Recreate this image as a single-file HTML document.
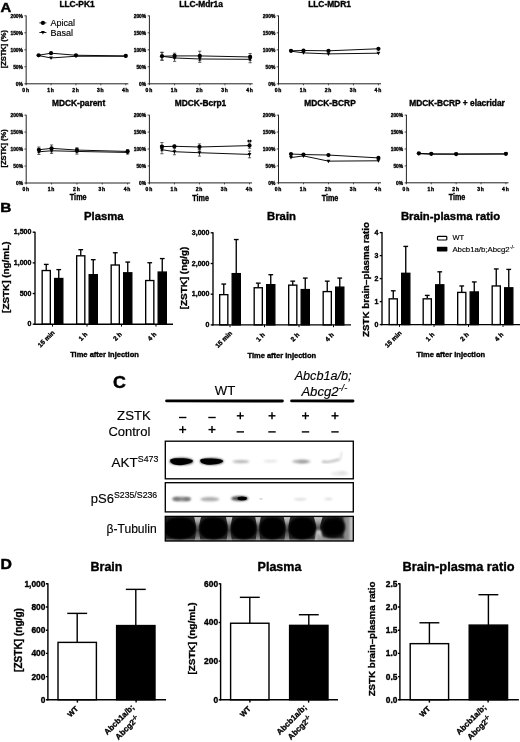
<!DOCTYPE html>
<html lang="en">
<head>
<meta charset="utf-8">
<title>ZSTK474 transport and brain penetration figure</title>
<style>
html,body{margin:0;padding:0;background:#fff;}
body{width:520px;height:742px;overflow:hidden;}
svg{display:block;filter:blur(0.3px);}
svg text{font-family:"Liberation Sans",sans-serif;fill:#000;}
</style>
</head>
<body>
<svg width="520" height="742" viewBox="0 0 520 742">
<rect x="0" y="0" width="520" height="742" fill="#fff"/>
<g id="panelA">
<text transform="translate(0.5 11.9) scale(1.13 1)" font-size="13.2" font-weight="bold" stroke="#000" stroke-width="0.45">A</text>
<text x="77" y="7.1" font-size="8.35" font-weight="bold" text-anchor="middle" stroke="#000" stroke-width="0.36">LLC-PK1</text>
<line x1="26.15" y1="15.5" x2="26.15" y2="84.25" stroke="#222" stroke-width="1" stroke-linecap="butt"/>
<line x1="25.7" y1="83.8" x2="128.35" y2="83.8" stroke="#222" stroke-width="1" stroke-linecap="butt"/>
<line x1="24.35" y1="83.8" x2="26.15" y2="83.8" stroke="#222" stroke-width="0.8" stroke-linecap="butt"/>
<text x="22.95" y="85.6" font-size="4.9" font-weight="bold" text-anchor="end" stroke="#000" stroke-width="0.32">0%</text>
<line x1="24.35" y1="66.8" x2="26.15" y2="66.8" stroke="#222" stroke-width="0.8" stroke-linecap="butt"/>
<text x="22.95" y="68.6" font-size="4.9" font-weight="bold" text-anchor="end" stroke="#000" stroke-width="0.32">50%</text>
<line x1="24.35" y1="49.8" x2="26.15" y2="49.8" stroke="#222" stroke-width="0.8" stroke-linecap="butt"/>
<text x="22.95" y="51.6" font-size="4.9" font-weight="bold" text-anchor="end" stroke="#000" stroke-width="0.32">100%</text>
<line x1="24.35" y1="32.8" x2="26.15" y2="32.8" stroke="#222" stroke-width="0.8" stroke-linecap="butt"/>
<text x="22.95" y="34.6" font-size="4.9" font-weight="bold" text-anchor="end" stroke="#000" stroke-width="0.32">150%</text>
<line x1="24.35" y1="15.8" x2="26.15" y2="15.8" stroke="#222" stroke-width="0.8" stroke-linecap="butt"/>
<text x="22.95" y="17.6" font-size="4.9" font-weight="bold" text-anchor="end" stroke="#000" stroke-width="0.32">200%</text>
<line x1="26.15" y1="83.8" x2="26.15" y2="85.3" stroke="#222" stroke-width="0.8" stroke-linecap="butt"/>
<text x="25.65" y="91.7" font-size="5" font-weight="bold" text-anchor="middle" stroke="#000" stroke-width="0.36" word-spacing="-0.6">0 h</text>
<line x1="51.05" y1="83.8" x2="51.05" y2="85.3" stroke="#222" stroke-width="0.8" stroke-linecap="butt"/>
<text x="50.55" y="91.7" font-size="5" font-weight="bold" text-anchor="middle" stroke="#000" stroke-width="0.36" word-spacing="-0.6">1 h</text>
<line x1="75.95" y1="83.8" x2="75.95" y2="85.3" stroke="#222" stroke-width="0.8" stroke-linecap="butt"/>
<text x="75.45" y="91.7" font-size="5" font-weight="bold" text-anchor="middle" stroke="#000" stroke-width="0.36" word-spacing="-0.6">2 h</text>
<line x1="100.85" y1="83.8" x2="100.85" y2="85.3" stroke="#222" stroke-width="0.8" stroke-linecap="butt"/>
<text x="100.35" y="91.7" font-size="5" font-weight="bold" text-anchor="middle" stroke="#000" stroke-width="0.36" word-spacing="-0.6">3 h</text>
<line x1="125.75" y1="83.8" x2="125.75" y2="85.3" stroke="#222" stroke-width="0.8" stroke-linecap="butt"/>
<text x="125.25" y="91.7" font-size="5" font-weight="bold" text-anchor="middle" stroke="#000" stroke-width="0.36" word-spacing="-0.6">4 h</text>
<text transform="translate(6.15 49.2) rotate(-90) scale(1 0.84)" font-size="7.5" font-weight="bold" text-anchor="middle" stroke="#000" stroke-width="0.34">[ZSTK] (%)</text>
<polyline points="38.6,55.58 51.05,57.96 75.95,56.26 125.75,56.26" fill="none" stroke="#000" stroke-width="0.95"/>
<polyline points="38.6,55.24 51.05,53.2 75.95,55.24 125.75,55.92" fill="none" stroke="#000" stroke-width="0.95"/>
<path d="M36.7 54.08 L40.5 54.08 L38.6 57.58 Z" fill="#000"/>
<path d="M49.15 56.46 L52.95 56.46 L51.05 59.96 Z" fill="#000"/>
<path d="M74.05 54.76 L77.85 54.76 L75.95 58.26 Z" fill="#000"/>
<path d="M123.85 54.76 L127.65 54.76 L125.75 58.26 Z" fill="#000"/>
<circle cx="38.6" cy="55.24" r="2.1" fill="#000"/>
<circle cx="51.05" cy="53.2" r="2.1" fill="#000"/>
<circle cx="75.95" cy="55.24" r="2.1" fill="#000"/>
<circle cx="125.75" cy="55.92" r="2.1" fill="#000"/>
<text x="201" y="7.1" font-size="8.35" font-weight="bold" text-anchor="middle" stroke="#000" stroke-width="0.36">LLC-Mdr1a</text>
<line x1="149.4" y1="15.5" x2="149.4" y2="84.25" stroke="#222" stroke-width="1" stroke-linecap="butt"/>
<line x1="148.95" y1="83.8" x2="252.72" y2="83.8" stroke="#222" stroke-width="1" stroke-linecap="butt"/>
<line x1="147.6" y1="83.8" x2="149.4" y2="83.8" stroke="#222" stroke-width="0.8" stroke-linecap="butt"/>
<text x="146.2" y="85.6" font-size="4.9" font-weight="bold" text-anchor="end" stroke="#000" stroke-width="0.32">0%</text>
<line x1="147.6" y1="66.8" x2="149.4" y2="66.8" stroke="#222" stroke-width="0.8" stroke-linecap="butt"/>
<text x="146.2" y="68.6" font-size="4.9" font-weight="bold" text-anchor="end" stroke="#000" stroke-width="0.32">50%</text>
<line x1="147.6" y1="49.8" x2="149.4" y2="49.8" stroke="#222" stroke-width="0.8" stroke-linecap="butt"/>
<text x="146.2" y="51.6" font-size="4.9" font-weight="bold" text-anchor="end" stroke="#000" stroke-width="0.32">100%</text>
<line x1="147.6" y1="32.8" x2="149.4" y2="32.8" stroke="#222" stroke-width="0.8" stroke-linecap="butt"/>
<text x="146.2" y="34.6" font-size="4.9" font-weight="bold" text-anchor="end" stroke="#000" stroke-width="0.32">150%</text>
<line x1="147.6" y1="15.8" x2="149.4" y2="15.8" stroke="#222" stroke-width="0.8" stroke-linecap="butt"/>
<text x="146.2" y="17.6" font-size="4.9" font-weight="bold" text-anchor="end" stroke="#000" stroke-width="0.32">200%</text>
<line x1="149.4" y1="83.8" x2="149.4" y2="85.3" stroke="#222" stroke-width="0.8" stroke-linecap="butt"/>
<text x="148.9" y="91.7" font-size="5" font-weight="bold" text-anchor="middle" stroke="#000" stroke-width="0.36" word-spacing="-0.6">0 h</text>
<line x1="174.58" y1="83.8" x2="174.58" y2="85.3" stroke="#222" stroke-width="0.8" stroke-linecap="butt"/>
<text x="174.08" y="91.7" font-size="5" font-weight="bold" text-anchor="middle" stroke="#000" stroke-width="0.36" word-spacing="-0.6">1 h</text>
<line x1="199.76" y1="83.8" x2="199.76" y2="85.3" stroke="#222" stroke-width="0.8" stroke-linecap="butt"/>
<text x="199.26" y="91.7" font-size="5" font-weight="bold" text-anchor="middle" stroke="#000" stroke-width="0.36" word-spacing="-0.6">2 h</text>
<line x1="224.94" y1="83.8" x2="224.94" y2="85.3" stroke="#222" stroke-width="0.8" stroke-linecap="butt"/>
<text x="224.44" y="91.7" font-size="5" font-weight="bold" text-anchor="middle" stroke="#000" stroke-width="0.36" word-spacing="-0.6">3 h</text>
<line x1="250.12" y1="83.8" x2="250.12" y2="85.3" stroke="#222" stroke-width="0.8" stroke-linecap="butt"/>
<text x="249.62" y="91.7" font-size="5" font-weight="bold" text-anchor="middle" stroke="#000" stroke-width="0.36" word-spacing="-0.6">4 h</text>
<line x1="161.99" y1="52.52" x2="161.99" y2="60" stroke="#222" stroke-width="0.7" stroke-linecap="butt"/>
<line x1="160.39" y1="52.52" x2="163.59" y2="52.52" stroke="#222" stroke-width="0.7" stroke-linecap="butt"/>
<line x1="160.39" y1="60" x2="163.59" y2="60" stroke="#222" stroke-width="0.7" stroke-linecap="butt"/>
<line x1="174.58" y1="53.2" x2="174.58" y2="58.64" stroke="#222" stroke-width="0.7" stroke-linecap="butt"/>
<line x1="172.98" y1="53.2" x2="176.18" y2="53.2" stroke="#222" stroke-width="0.7" stroke-linecap="butt"/>
<line x1="172.98" y1="58.64" x2="176.18" y2="58.64" stroke="#222" stroke-width="0.7" stroke-linecap="butt"/>
<line x1="199.76" y1="51.16" x2="199.76" y2="60.68" stroke="#222" stroke-width="0.7" stroke-linecap="butt"/>
<line x1="198.16" y1="51.16" x2="201.36" y2="51.16" stroke="#222" stroke-width="0.7" stroke-linecap="butt"/>
<line x1="198.16" y1="60.68" x2="201.36" y2="60.68" stroke="#222" stroke-width="0.7" stroke-linecap="butt"/>
<line x1="250.12" y1="53.54" x2="250.12" y2="60.34" stroke="#222" stroke-width="0.7" stroke-linecap="butt"/>
<line x1="248.52" y1="53.54" x2="251.72" y2="53.54" stroke="#222" stroke-width="0.7" stroke-linecap="butt"/>
<line x1="248.52" y1="60.34" x2="251.72" y2="60.34" stroke="#222" stroke-width="0.7" stroke-linecap="butt"/>
<line x1="161.99" y1="52.18" x2="161.99" y2="60.34" stroke="#222" stroke-width="0.7" stroke-linecap="butt"/>
<line x1="160.39" y1="52.18" x2="163.59" y2="52.18" stroke="#222" stroke-width="0.7" stroke-linecap="butt"/>
<line x1="160.39" y1="60.34" x2="163.59" y2="60.34" stroke="#222" stroke-width="0.7" stroke-linecap="butt"/>
<line x1="174.58" y1="54.56" x2="174.58" y2="61.36" stroke="#222" stroke-width="0.7" stroke-linecap="butt"/>
<line x1="172.98" y1="54.56" x2="176.18" y2="54.56" stroke="#222" stroke-width="0.7" stroke-linecap="butt"/>
<line x1="172.98" y1="61.36" x2="176.18" y2="61.36" stroke="#222" stroke-width="0.7" stroke-linecap="butt"/>
<line x1="199.76" y1="55.58" x2="199.76" y2="62.38" stroke="#222" stroke-width="0.7" stroke-linecap="butt"/>
<line x1="198.16" y1="55.58" x2="201.36" y2="55.58" stroke="#222" stroke-width="0.7" stroke-linecap="butt"/>
<line x1="198.16" y1="62.38" x2="201.36" y2="62.38" stroke="#222" stroke-width="0.7" stroke-linecap="butt"/>
<line x1="250.12" y1="55.92" x2="250.12" y2="62.72" stroke="#222" stroke-width="0.7" stroke-linecap="butt"/>
<line x1="248.52" y1="55.92" x2="251.72" y2="55.92" stroke="#222" stroke-width="0.7" stroke-linecap="butt"/>
<line x1="248.52" y1="62.72" x2="251.72" y2="62.72" stroke="#222" stroke-width="0.7" stroke-linecap="butt"/>
<polyline points="161.99,56.26 174.58,57.96 199.76,58.98 250.12,59.32" fill="none" stroke="#000" stroke-width="0.95"/>
<polyline points="161.99,56.26 174.58,55.92 199.76,55.92 250.12,56.94" fill="none" stroke="#000" stroke-width="0.95"/>
<path d="M160.09 54.76 L163.89 54.76 L161.99 58.26 Z" fill="#000"/>
<path d="M172.68 56.46 L176.48 56.46 L174.58 59.96 Z" fill="#000"/>
<path d="M197.86 57.48 L201.66 57.48 L199.76 60.98 Z" fill="#000"/>
<path d="M248.22 57.82 L252.02 57.82 L250.12 61.32 Z" fill="#000"/>
<circle cx="161.99" cy="56.26" r="2.1" fill="#000"/>
<circle cx="174.58" cy="55.92" r="2.1" fill="#000"/>
<circle cx="199.76" cy="55.92" r="2.1" fill="#000"/>
<circle cx="250.12" cy="56.94" r="2.1" fill="#000"/>
<text x="329.5" y="7.1" font-size="8.35" font-weight="bold" text-anchor="middle" stroke="#000" stroke-width="0.36">LLC-MDR1</text>
<line x1="278.5" y1="15.5" x2="278.5" y2="84.25" stroke="#222" stroke-width="1" stroke-linecap="butt"/>
<line x1="278.05" y1="83.8" x2="381.02" y2="83.8" stroke="#222" stroke-width="1" stroke-linecap="butt"/>
<line x1="276.7" y1="83.8" x2="278.5" y2="83.8" stroke="#222" stroke-width="0.8" stroke-linecap="butt"/>
<text x="275.3" y="85.6" font-size="4.9" font-weight="bold" text-anchor="end" stroke="#000" stroke-width="0.32">0%</text>
<line x1="276.7" y1="66.8" x2="278.5" y2="66.8" stroke="#222" stroke-width="0.8" stroke-linecap="butt"/>
<text x="275.3" y="68.6" font-size="4.9" font-weight="bold" text-anchor="end" stroke="#000" stroke-width="0.32">50%</text>
<line x1="276.7" y1="49.8" x2="278.5" y2="49.8" stroke="#222" stroke-width="0.8" stroke-linecap="butt"/>
<text x="275.3" y="51.6" font-size="4.9" font-weight="bold" text-anchor="end" stroke="#000" stroke-width="0.32">100%</text>
<line x1="276.7" y1="32.8" x2="278.5" y2="32.8" stroke="#222" stroke-width="0.8" stroke-linecap="butt"/>
<text x="275.3" y="34.6" font-size="4.9" font-weight="bold" text-anchor="end" stroke="#000" stroke-width="0.32">150%</text>
<line x1="276.7" y1="15.8" x2="278.5" y2="15.8" stroke="#222" stroke-width="0.8" stroke-linecap="butt"/>
<text x="275.3" y="17.6" font-size="4.9" font-weight="bold" text-anchor="end" stroke="#000" stroke-width="0.32">200%</text>
<line x1="278.5" y1="83.8" x2="278.5" y2="85.3" stroke="#222" stroke-width="0.8" stroke-linecap="butt"/>
<text x="278" y="91.7" font-size="5" font-weight="bold" text-anchor="middle" stroke="#000" stroke-width="0.36" word-spacing="-0.6">0 h</text>
<line x1="303.48" y1="83.8" x2="303.48" y2="85.3" stroke="#222" stroke-width="0.8" stroke-linecap="butt"/>
<text x="302.98" y="91.7" font-size="5" font-weight="bold" text-anchor="middle" stroke="#000" stroke-width="0.36" word-spacing="-0.6">1 h</text>
<line x1="328.46" y1="83.8" x2="328.46" y2="85.3" stroke="#222" stroke-width="0.8" stroke-linecap="butt"/>
<text x="327.96" y="91.7" font-size="5" font-weight="bold" text-anchor="middle" stroke="#000" stroke-width="0.36" word-spacing="-0.6">2 h</text>
<line x1="353.44" y1="83.8" x2="353.44" y2="85.3" stroke="#222" stroke-width="0.8" stroke-linecap="butt"/>
<text x="352.94" y="91.7" font-size="5" font-weight="bold" text-anchor="middle" stroke="#000" stroke-width="0.36" word-spacing="-0.6">3 h</text>
<line x1="378.42" y1="83.8" x2="378.42" y2="85.3" stroke="#222" stroke-width="0.8" stroke-linecap="butt"/>
<text x="377.92" y="91.7" font-size="5" font-weight="bold" text-anchor="middle" stroke="#000" stroke-width="0.36" word-spacing="-0.6">4 h</text>
<polyline points="290.99,51.16 303.48,52.86 328.46,53.88 378.42,53.2" fill="none" stroke="#000" stroke-width="0.95"/>
<polyline points="290.99,50.82 303.48,50.48 328.46,50.82 378.42,48.78" fill="none" stroke="#000" stroke-width="0.95"/>
<path d="M289.09 49.66 L292.89 49.66 L290.99 53.16 Z" fill="#000"/>
<path d="M301.58 51.36 L305.38 51.36 L303.48 54.86 Z" fill="#000"/>
<path d="M326.56 52.38 L330.36 52.38 L328.46 55.88 Z" fill="#000"/>
<path d="M376.52 51.7 L380.32 51.7 L378.42 55.2 Z" fill="#000"/>
<circle cx="290.99" cy="50.82" r="2.1" fill="#000"/>
<circle cx="303.48" cy="50.48" r="2.1" fill="#000"/>
<circle cx="328.46" cy="50.82" r="2.1" fill="#000"/>
<circle cx="378.42" cy="48.78" r="2.1" fill="#000"/>
<text x="78.6" y="105.6" font-size="8.35" font-weight="bold" text-anchor="middle" stroke="#000" stroke-width="0.36">MDCK-parent</text>
<line x1="26.2" y1="114.8" x2="26.2" y2="183.45" stroke="#222" stroke-width="1" stroke-linecap="butt"/>
<line x1="25.75" y1="183" x2="130.2" y2="183" stroke="#222" stroke-width="1" stroke-linecap="butt"/>
<line x1="24.4" y1="183" x2="26.2" y2="183" stroke="#222" stroke-width="0.8" stroke-linecap="butt"/>
<text x="23" y="184.8" font-size="4.9" font-weight="bold" text-anchor="end" stroke="#000" stroke-width="0.32">0%</text>
<line x1="24.4" y1="166.03" x2="26.2" y2="166.03" stroke="#222" stroke-width="0.8" stroke-linecap="butt"/>
<text x="23" y="167.83" font-size="4.9" font-weight="bold" text-anchor="end" stroke="#000" stroke-width="0.32">50%</text>
<line x1="24.4" y1="149.05" x2="26.2" y2="149.05" stroke="#222" stroke-width="0.8" stroke-linecap="butt"/>
<text x="23" y="150.85" font-size="4.9" font-weight="bold" text-anchor="end" stroke="#000" stroke-width="0.32">100%</text>
<line x1="24.4" y1="132.07" x2="26.2" y2="132.07" stroke="#222" stroke-width="0.8" stroke-linecap="butt"/>
<text x="23" y="133.88" font-size="4.9" font-weight="bold" text-anchor="end" stroke="#000" stroke-width="0.32">150%</text>
<line x1="24.4" y1="115.1" x2="26.2" y2="115.1" stroke="#222" stroke-width="0.8" stroke-linecap="butt"/>
<text x="23" y="116.9" font-size="4.9" font-weight="bold" text-anchor="end" stroke="#000" stroke-width="0.32">200%</text>
<line x1="26.2" y1="183" x2="26.2" y2="184.5" stroke="#222" stroke-width="0.8" stroke-linecap="butt"/>
<text x="25.7" y="190.9" font-size="5" font-weight="bold" text-anchor="middle" stroke="#000" stroke-width="0.36" word-spacing="-0.6">0 h</text>
<line x1="51.55" y1="183" x2="51.55" y2="184.5" stroke="#222" stroke-width="0.8" stroke-linecap="butt"/>
<text x="51.05" y="190.9" font-size="5" font-weight="bold" text-anchor="middle" stroke="#000" stroke-width="0.36" word-spacing="-0.6">1 h</text>
<line x1="76.9" y1="183" x2="76.9" y2="184.5" stroke="#222" stroke-width="0.8" stroke-linecap="butt"/>
<text x="76.4" y="190.9" font-size="5" font-weight="bold" text-anchor="middle" stroke="#000" stroke-width="0.36" word-spacing="-0.6">2 h</text>
<line x1="102.25" y1="183" x2="102.25" y2="184.5" stroke="#222" stroke-width="0.8" stroke-linecap="butt"/>
<text x="101.75" y="190.9" font-size="5" font-weight="bold" text-anchor="middle" stroke="#000" stroke-width="0.36" word-spacing="-0.6">3 h</text>
<line x1="127.6" y1="183" x2="127.6" y2="184.5" stroke="#222" stroke-width="0.8" stroke-linecap="butt"/>
<text x="127.1" y="190.9" font-size="5" font-weight="bold" text-anchor="middle" stroke="#000" stroke-width="0.36" word-spacing="-0.6">4 h</text>
<text transform="translate(6.2 148.45) rotate(-90) scale(1 0.84)" font-size="7.5" font-weight="bold" text-anchor="middle" stroke="#000" stroke-width="0.34">[ZSTK] (%)</text>
<line x1="38.88" y1="147.01" x2="38.88" y2="152.44" stroke="#222" stroke-width="0.7" stroke-linecap="butt"/>
<line x1="37.27" y1="147.01" x2="40.48" y2="147.01" stroke="#222" stroke-width="0.7" stroke-linecap="butt"/>
<line x1="37.27" y1="152.44" x2="40.48" y2="152.44" stroke="#222" stroke-width="0.7" stroke-linecap="butt"/>
<line x1="51.55" y1="144.98" x2="51.55" y2="151.77" stroke="#222" stroke-width="0.7" stroke-linecap="butt"/>
<line x1="49.95" y1="144.98" x2="53.15" y2="144.98" stroke="#222" stroke-width="0.7" stroke-linecap="butt"/>
<line x1="49.95" y1="151.77" x2="53.15" y2="151.77" stroke="#222" stroke-width="0.7" stroke-linecap="butt"/>
<line x1="76.9" y1="147.69" x2="76.9" y2="152.44" stroke="#222" stroke-width="0.7" stroke-linecap="butt"/>
<line x1="75.3" y1="147.69" x2="78.5" y2="147.69" stroke="#222" stroke-width="0.7" stroke-linecap="butt"/>
<line x1="75.3" y1="152.44" x2="78.5" y2="152.44" stroke="#222" stroke-width="0.7" stroke-linecap="butt"/>
<line x1="127.6" y1="149.73" x2="127.6" y2="153.12" stroke="#222" stroke-width="0.7" stroke-linecap="butt"/>
<line x1="126" y1="149.73" x2="129.2" y2="149.73" stroke="#222" stroke-width="0.7" stroke-linecap="butt"/>
<line x1="126" y1="153.12" x2="129.2" y2="153.12" stroke="#222" stroke-width="0.7" stroke-linecap="butt"/>
<line x1="38.88" y1="149.05" x2="38.88" y2="154.48" stroke="#222" stroke-width="0.7" stroke-linecap="butt"/>
<line x1="37.27" y1="149.05" x2="40.48" y2="149.05" stroke="#222" stroke-width="0.7" stroke-linecap="butt"/>
<line x1="37.27" y1="154.48" x2="40.48" y2="154.48" stroke="#222" stroke-width="0.7" stroke-linecap="butt"/>
<line x1="51.55" y1="148.03" x2="51.55" y2="153.46" stroke="#222" stroke-width="0.7" stroke-linecap="butt"/>
<line x1="49.95" y1="148.03" x2="53.15" y2="148.03" stroke="#222" stroke-width="0.7" stroke-linecap="butt"/>
<line x1="49.95" y1="153.46" x2="53.15" y2="153.46" stroke="#222" stroke-width="0.7" stroke-linecap="butt"/>
<line x1="76.9" y1="148.71" x2="76.9" y2="154.14" stroke="#222" stroke-width="0.7" stroke-linecap="butt"/>
<line x1="75.3" y1="148.71" x2="78.5" y2="148.71" stroke="#222" stroke-width="0.7" stroke-linecap="butt"/>
<line x1="75.3" y1="154.14" x2="78.5" y2="154.14" stroke="#222" stroke-width="0.7" stroke-linecap="butt"/>
<line x1="127.6" y1="150.75" x2="127.6" y2="154.14" stroke="#222" stroke-width="0.7" stroke-linecap="butt"/>
<line x1="126" y1="150.75" x2="129.2" y2="150.75" stroke="#222" stroke-width="0.7" stroke-linecap="butt"/>
<line x1="126" y1="154.14" x2="129.2" y2="154.14" stroke="#222" stroke-width="0.7" stroke-linecap="butt"/>
<polyline points="38.88,151.77 51.55,150.75 76.9,151.43 127.6,152.44" fill="none" stroke="#000" stroke-width="0.95"/>
<polyline points="38.88,149.73 51.55,148.37 76.9,150.07 127.6,151.43" fill="none" stroke="#000" stroke-width="0.95"/>
<path d="M36.98 150.27 L40.77 150.27 L38.88 153.77 Z" fill="#000"/>
<path d="M49.65 149.25 L53.45 149.25 L51.55 152.75 Z" fill="#000"/>
<path d="M75 149.93 L78.8 149.93 L76.9 153.43 Z" fill="#000"/>
<path d="M125.7 150.94 L129.5 150.94 L127.6 154.44 Z" fill="#000"/>
<circle cx="38.88" cy="149.73" r="2.1" fill="#000"/>
<circle cx="51.55" cy="148.37" r="2.1" fill="#000"/>
<circle cx="76.9" cy="150.07" r="2.1" fill="#000"/>
<circle cx="127.6" cy="151.43" r="2.1" fill="#000"/>
<text x="200.5" y="105.6" font-size="8.35" font-weight="bold" text-anchor="middle" stroke="#000" stroke-width="0.36">MDCK-Bcrp1</text>
<line x1="149.4" y1="114.8" x2="149.4" y2="183.35" stroke="#222" stroke-width="1" stroke-linecap="butt"/>
<line x1="148.95" y1="182.9" x2="252.12" y2="182.9" stroke="#222" stroke-width="1" stroke-linecap="butt"/>
<line x1="147.6" y1="182.9" x2="149.4" y2="182.9" stroke="#222" stroke-width="0.8" stroke-linecap="butt"/>
<text x="146.2" y="184.7" font-size="4.9" font-weight="bold" text-anchor="end" stroke="#000" stroke-width="0.32">0%</text>
<line x1="147.6" y1="165.95" x2="149.4" y2="165.95" stroke="#222" stroke-width="0.8" stroke-linecap="butt"/>
<text x="146.2" y="167.75" font-size="4.9" font-weight="bold" text-anchor="end" stroke="#000" stroke-width="0.32">50%</text>
<line x1="147.6" y1="149" x2="149.4" y2="149" stroke="#222" stroke-width="0.8" stroke-linecap="butt"/>
<text x="146.2" y="150.8" font-size="4.9" font-weight="bold" text-anchor="end" stroke="#000" stroke-width="0.32">100%</text>
<line x1="147.6" y1="132.05" x2="149.4" y2="132.05" stroke="#222" stroke-width="0.8" stroke-linecap="butt"/>
<text x="146.2" y="133.85" font-size="4.9" font-weight="bold" text-anchor="end" stroke="#000" stroke-width="0.32">150%</text>
<line x1="147.6" y1="115.1" x2="149.4" y2="115.1" stroke="#222" stroke-width="0.8" stroke-linecap="butt"/>
<text x="146.2" y="116.9" font-size="4.9" font-weight="bold" text-anchor="end" stroke="#000" stroke-width="0.32">200%</text>
<line x1="149.4" y1="182.9" x2="149.4" y2="184.4" stroke="#222" stroke-width="0.8" stroke-linecap="butt"/>
<text x="148.9" y="190.8" font-size="5" font-weight="bold" text-anchor="middle" stroke="#000" stroke-width="0.36" word-spacing="-0.6">0 h</text>
<line x1="174.43" y1="182.9" x2="174.43" y2="184.4" stroke="#222" stroke-width="0.8" stroke-linecap="butt"/>
<text x="173.93" y="190.8" font-size="5" font-weight="bold" text-anchor="middle" stroke="#000" stroke-width="0.36" word-spacing="-0.6">1 h</text>
<line x1="199.46" y1="182.9" x2="199.46" y2="184.4" stroke="#222" stroke-width="0.8" stroke-linecap="butt"/>
<text x="198.96" y="190.8" font-size="5" font-weight="bold" text-anchor="middle" stroke="#000" stroke-width="0.36" word-spacing="-0.6">2 h</text>
<line x1="224.49" y1="182.9" x2="224.49" y2="184.4" stroke="#222" stroke-width="0.8" stroke-linecap="butt"/>
<text x="223.99" y="190.8" font-size="5" font-weight="bold" text-anchor="middle" stroke="#000" stroke-width="0.36" word-spacing="-0.6">3 h</text>
<line x1="249.52" y1="182.9" x2="249.52" y2="184.4" stroke="#222" stroke-width="0.8" stroke-linecap="butt"/>
<text x="249.02" y="190.8" font-size="5" font-weight="bold" text-anchor="middle" stroke="#000" stroke-width="0.36" word-spacing="-0.6">4 h</text>
<line x1="161.92" y1="142.56" x2="161.92" y2="150.69" stroke="#222" stroke-width="0.7" stroke-linecap="butt"/>
<line x1="160.32" y1="142.56" x2="163.52" y2="142.56" stroke="#222" stroke-width="0.7" stroke-linecap="butt"/>
<line x1="160.32" y1="150.69" x2="163.52" y2="150.69" stroke="#222" stroke-width="0.7" stroke-linecap="butt"/>
<line x1="174.43" y1="145.27" x2="174.43" y2="147.31" stroke="#222" stroke-width="0.7" stroke-linecap="butt"/>
<line x1="172.83" y1="145.27" x2="176.03" y2="145.27" stroke="#222" stroke-width="0.7" stroke-linecap="butt"/>
<line x1="172.83" y1="147.31" x2="176.03" y2="147.31" stroke="#222" stroke-width="0.7" stroke-linecap="butt"/>
<line x1="199.46" y1="143.91" x2="199.46" y2="150.02" stroke="#222" stroke-width="0.7" stroke-linecap="butt"/>
<line x1="197.86" y1="143.91" x2="201.06" y2="143.91" stroke="#222" stroke-width="0.7" stroke-linecap="butt"/>
<line x1="197.86" y1="150.02" x2="201.06" y2="150.02" stroke="#222" stroke-width="0.7" stroke-linecap="butt"/>
<line x1="249.52" y1="142.9" x2="249.52" y2="148.32" stroke="#222" stroke-width="0.7" stroke-linecap="butt"/>
<line x1="247.92" y1="142.9" x2="251.12" y2="142.9" stroke="#222" stroke-width="0.7" stroke-linecap="butt"/>
<line x1="247.92" y1="148.32" x2="251.12" y2="148.32" stroke="#222" stroke-width="0.7" stroke-linecap="butt"/>
<line x1="161.92" y1="145.61" x2="161.92" y2="153.75" stroke="#222" stroke-width="0.7" stroke-linecap="butt"/>
<line x1="160.32" y1="145.61" x2="163.52" y2="145.61" stroke="#222" stroke-width="0.7" stroke-linecap="butt"/>
<line x1="160.32" y1="153.75" x2="163.52" y2="153.75" stroke="#222" stroke-width="0.7" stroke-linecap="butt"/>
<line x1="174.43" y1="148.66" x2="174.43" y2="154.76" stroke="#222" stroke-width="0.7" stroke-linecap="butt"/>
<line x1="172.83" y1="148.66" x2="176.03" y2="148.66" stroke="#222" stroke-width="0.7" stroke-linecap="butt"/>
<line x1="172.83" y1="154.76" x2="176.03" y2="154.76" stroke="#222" stroke-width="0.7" stroke-linecap="butt"/>
<line x1="199.46" y1="149.34" x2="199.46" y2="156.12" stroke="#222" stroke-width="0.7" stroke-linecap="butt"/>
<line x1="197.86" y1="149.34" x2="201.06" y2="149.34" stroke="#222" stroke-width="0.7" stroke-linecap="butt"/>
<line x1="197.86" y1="156.12" x2="201.06" y2="156.12" stroke="#222" stroke-width="0.7" stroke-linecap="butt"/>
<line x1="249.52" y1="151.03" x2="249.52" y2="157.81" stroke="#222" stroke-width="0.7" stroke-linecap="butt"/>
<line x1="247.92" y1="151.03" x2="251.12" y2="151.03" stroke="#222" stroke-width="0.7" stroke-linecap="butt"/>
<line x1="247.92" y1="157.81" x2="251.12" y2="157.81" stroke="#222" stroke-width="0.7" stroke-linecap="butt"/>
<polyline points="161.92,149.68 174.43,151.71 199.46,152.73 249.52,154.42" fill="none" stroke="#000" stroke-width="0.95"/>
<polyline points="161.92,146.63 174.43,146.29 199.46,146.97 249.52,145.61" fill="none" stroke="#000" stroke-width="0.95"/>
<path d="M160.02 148.18 L163.82 148.18 L161.92 151.68 Z" fill="#000"/>
<path d="M172.53 150.21 L176.33 150.21 L174.43 153.71 Z" fill="#000"/>
<path d="M197.56 151.23 L201.36 151.23 L199.46 154.73 Z" fill="#000"/>
<path d="M247.62 152.92 L251.42 152.92 L249.52 156.42 Z" fill="#000"/>
<circle cx="161.92" cy="146.63" r="2.1" fill="#000"/>
<circle cx="174.43" cy="146.29" r="2.1" fill="#000"/>
<circle cx="199.46" cy="146.97" r="2.1" fill="#000"/>
<circle cx="249.52" cy="145.61" r="2.1" fill="#000"/>
<text x="249.52" y="143.54" font-size="5" font-weight="bold" text-anchor="middle" stroke="#000" stroke-width="0.36">**</text>
<text x="330" y="105.6" font-size="8.35" font-weight="bold" text-anchor="middle" stroke="#000" stroke-width="0.36">MDCK-BCRP</text>
<line x1="278.5" y1="114.8" x2="278.5" y2="183.25" stroke="#222" stroke-width="1" stroke-linecap="butt"/>
<line x1="278.05" y1="182.8" x2="381.02" y2="182.8" stroke="#222" stroke-width="1" stroke-linecap="butt"/>
<line x1="276.7" y1="182.8" x2="278.5" y2="182.8" stroke="#222" stroke-width="0.8" stroke-linecap="butt"/>
<text x="275.3" y="184.6" font-size="4.9" font-weight="bold" text-anchor="end" stroke="#000" stroke-width="0.32">0%</text>
<line x1="276.7" y1="165.88" x2="278.5" y2="165.88" stroke="#222" stroke-width="0.8" stroke-linecap="butt"/>
<text x="275.3" y="167.68" font-size="4.9" font-weight="bold" text-anchor="end" stroke="#000" stroke-width="0.32">50%</text>
<line x1="276.7" y1="148.95" x2="278.5" y2="148.95" stroke="#222" stroke-width="0.8" stroke-linecap="butt"/>
<text x="275.3" y="150.75" font-size="4.9" font-weight="bold" text-anchor="end" stroke="#000" stroke-width="0.32">100%</text>
<line x1="276.7" y1="132.03" x2="278.5" y2="132.03" stroke="#222" stroke-width="0.8" stroke-linecap="butt"/>
<text x="275.3" y="133.83" font-size="4.9" font-weight="bold" text-anchor="end" stroke="#000" stroke-width="0.32">150%</text>
<line x1="276.7" y1="115.1" x2="278.5" y2="115.1" stroke="#222" stroke-width="0.8" stroke-linecap="butt"/>
<text x="275.3" y="116.9" font-size="4.9" font-weight="bold" text-anchor="end" stroke="#000" stroke-width="0.32">200%</text>
<line x1="278.5" y1="182.8" x2="278.5" y2="184.3" stroke="#222" stroke-width="0.8" stroke-linecap="butt"/>
<text x="278" y="190.7" font-size="5" font-weight="bold" text-anchor="middle" stroke="#000" stroke-width="0.36" word-spacing="-0.6">0 h</text>
<line x1="303.48" y1="182.8" x2="303.48" y2="184.3" stroke="#222" stroke-width="0.8" stroke-linecap="butt"/>
<text x="302.98" y="190.7" font-size="5" font-weight="bold" text-anchor="middle" stroke="#000" stroke-width="0.36" word-spacing="-0.6">1 h</text>
<line x1="328.46" y1="182.8" x2="328.46" y2="184.3" stroke="#222" stroke-width="0.8" stroke-linecap="butt"/>
<text x="327.96" y="190.7" font-size="5" font-weight="bold" text-anchor="middle" stroke="#000" stroke-width="0.36" word-spacing="-0.6">2 h</text>
<line x1="353.44" y1="182.8" x2="353.44" y2="184.3" stroke="#222" stroke-width="0.8" stroke-linecap="butt"/>
<text x="352.94" y="190.7" font-size="5" font-weight="bold" text-anchor="middle" stroke="#000" stroke-width="0.36" word-spacing="-0.6">3 h</text>
<line x1="378.42" y1="182.8" x2="378.42" y2="184.3" stroke="#222" stroke-width="0.8" stroke-linecap="butt"/>
<text x="377.92" y="190.7" font-size="5" font-weight="bold" text-anchor="middle" stroke="#000" stroke-width="0.36" word-spacing="-0.6">4 h</text>
<polyline points="290.99,157.58 303.48,155.89 328.46,161.14 378.42,160.8" fill="none" stroke="#000" stroke-width="0.95"/>
<polyline points="290.99,154.03 303.48,154.54 328.46,155.04 378.42,157.92" fill="none" stroke="#000" stroke-width="0.95"/>
<path d="M289.09 156.08 L292.89 156.08 L290.99 159.58 Z" fill="#000"/>
<path d="M301.58 154.39 L305.38 154.39 L303.48 157.89 Z" fill="#000"/>
<path d="M326.56 159.64 L330.36 159.64 L328.46 163.14 Z" fill="#000"/>
<path d="M376.52 159.3 L380.32 159.3 L378.42 162.8 Z" fill="#000"/>
<circle cx="290.99" cy="154.03" r="2.1" fill="#000"/>
<circle cx="303.48" cy="154.54" r="2.1" fill="#000"/>
<circle cx="328.46" cy="155.04" r="2.1" fill="#000"/>
<circle cx="378.42" cy="157.92" r="2.1" fill="#000"/>
<text x="457" y="105.6" font-size="8.35" font-weight="bold" text-anchor="middle" stroke="#000" stroke-width="0.36">MDCK-BCRP + elacridar</text>
<line x1="406.4" y1="114.8" x2="406.4" y2="183.25" stroke="#222" stroke-width="1" stroke-linecap="butt"/>
<line x1="405.95" y1="182.8" x2="508.52" y2="182.8" stroke="#222" stroke-width="1" stroke-linecap="butt"/>
<line x1="404.6" y1="182.8" x2="406.4" y2="182.8" stroke="#222" stroke-width="0.8" stroke-linecap="butt"/>
<text x="403.2" y="184.6" font-size="4.9" font-weight="bold" text-anchor="end" stroke="#000" stroke-width="0.32">0%</text>
<line x1="404.6" y1="165.88" x2="406.4" y2="165.88" stroke="#222" stroke-width="0.8" stroke-linecap="butt"/>
<text x="403.2" y="167.68" font-size="4.9" font-weight="bold" text-anchor="end" stroke="#000" stroke-width="0.32">50%</text>
<line x1="404.6" y1="148.95" x2="406.4" y2="148.95" stroke="#222" stroke-width="0.8" stroke-linecap="butt"/>
<text x="403.2" y="150.75" font-size="4.9" font-weight="bold" text-anchor="end" stroke="#000" stroke-width="0.32">100%</text>
<line x1="404.6" y1="132.03" x2="406.4" y2="132.03" stroke="#222" stroke-width="0.8" stroke-linecap="butt"/>
<text x="403.2" y="133.83" font-size="4.9" font-weight="bold" text-anchor="end" stroke="#000" stroke-width="0.32">150%</text>
<line x1="404.6" y1="115.1" x2="406.4" y2="115.1" stroke="#222" stroke-width="0.8" stroke-linecap="butt"/>
<text x="403.2" y="116.9" font-size="4.9" font-weight="bold" text-anchor="end" stroke="#000" stroke-width="0.32">200%</text>
<line x1="406.4" y1="182.8" x2="406.4" y2="184.3" stroke="#222" stroke-width="0.8" stroke-linecap="butt"/>
<text x="405.9" y="190.7" font-size="5" font-weight="bold" text-anchor="middle" stroke="#000" stroke-width="0.36" word-spacing="-0.6">0 h</text>
<line x1="431.28" y1="182.8" x2="431.28" y2="184.3" stroke="#222" stroke-width="0.8" stroke-linecap="butt"/>
<text x="430.78" y="190.7" font-size="5" font-weight="bold" text-anchor="middle" stroke="#000" stroke-width="0.36" word-spacing="-0.6">1 h</text>
<line x1="456.16" y1="182.8" x2="456.16" y2="184.3" stroke="#222" stroke-width="0.8" stroke-linecap="butt"/>
<text x="455.66" y="190.7" font-size="5" font-weight="bold" text-anchor="middle" stroke="#000" stroke-width="0.36" word-spacing="-0.6">2 h</text>
<line x1="481.04" y1="182.8" x2="481.04" y2="184.3" stroke="#222" stroke-width="0.8" stroke-linecap="butt"/>
<text x="480.54" y="190.7" font-size="5" font-weight="bold" text-anchor="middle" stroke="#000" stroke-width="0.36" word-spacing="-0.6">3 h</text>
<line x1="505.92" y1="182.8" x2="505.92" y2="184.3" stroke="#222" stroke-width="0.8" stroke-linecap="butt"/>
<text x="505.42" y="190.7" font-size="5" font-weight="bold" text-anchor="middle" stroke="#000" stroke-width="0.36" word-spacing="-0.6">4 h</text>
<polyline points="418.84,153.69 431.28,154.2 456.16,154.2 505.92,154.03" fill="none" stroke="#000" stroke-width="0.95"/>
<polyline points="418.84,153.35 431.28,153.86 456.16,154.03 505.92,153.86" fill="none" stroke="#000" stroke-width="0.95"/>
<path d="M416.94 152.19 L420.74 152.19 L418.84 155.69 Z" fill="#000"/>
<path d="M429.38 152.7 L433.18 152.7 L431.28 156.2 Z" fill="#000"/>
<path d="M454.26 152.7 L458.06 152.7 L456.16 156.2 Z" fill="#000"/>
<path d="M504.02 152.53 L507.82 152.53 L505.92 156.03 Z" fill="#000"/>
<circle cx="418.84" cy="153.35" r="2.1" fill="#000"/>
<circle cx="431.28" cy="153.86" r="2.1" fill="#000"/>
<circle cx="456.16" cy="154.03" r="2.1" fill="#000"/>
<circle cx="505.92" cy="153.86" r="2.1" fill="#000"/>
<text transform="translate(78.2 200.2) scale(0.88 1)" font-size="8.2" font-weight="bold" text-anchor="middle" stroke="#000" stroke-width="0.36">Time</text>
<text transform="translate(200.6 201) scale(0.88 1)" font-size="8.2" font-weight="bold" text-anchor="middle" stroke="#000" stroke-width="0.36">Time</text>
<text transform="translate(330 200.5) scale(0.88 1)" font-size="8.2" font-weight="bold" text-anchor="middle" stroke="#000" stroke-width="0.36">Time</text>
<text transform="translate(457 200.2) scale(0.88 1)" font-size="8.2" font-weight="bold" text-anchor="middle" stroke="#000" stroke-width="0.36">Time</text>
<line x1="39.4" y1="22.9" x2="46.4" y2="22.9" stroke="#000" stroke-width="0.9" stroke-linecap="butt"/>
<circle cx="42.9" cy="22.9" r="2.1" fill="#000"/>
<text x="50.6" y="26.2" font-size="9" text-anchor="start" stroke="#000" stroke-width="0.15">Apical</text>
<line x1="39.4" y1="32.5" x2="46.4" y2="32.5" stroke="#000" stroke-width="0.9" stroke-linecap="butt"/>
<path d="M41.0 31.1 L44.8 31.1 L42.9 34.6 Z" fill="#000"/>
<text x="50.6" y="35.7" font-size="9" text-anchor="start" stroke="#000" stroke-width="0.15">Basal</text>
</g>
<g id="panelB">
<text transform="translate(0.2 211.7) scale(1.16 1)" font-size="13.3" font-weight="bold" stroke="#000" stroke-width="0.45">B</text>
<text x="103.8" y="220.3" font-size="11.3" font-weight="bold" text-anchor="middle" stroke="#000" stroke-width="0.36">Plasma</text>
<text x="281.5" y="220.3" font-size="11.3" font-weight="bold" text-anchor="middle" stroke="#000" stroke-width="0.36">Brain</text>
<text x="450.5" y="220.3" font-size="11.3" font-weight="bold" text-anchor="middle" stroke="#000" stroke-width="0.36">Brain-plasma ratio</text>
<line x1="46.25" y1="264.4" x2="46.25" y2="270.53" stroke="#000" stroke-width="1.35" stroke-linecap="butt"/>
<line x1="43.88" y1="264.4" x2="48.62" y2="264.4" stroke="#000" stroke-width="1.35" stroke-linecap="butt"/>
<rect x="42.17" y="270.53" width="8.15" height="53.67" fill="#fff" stroke="#000" stroke-width="1.35"/>
<line x1="58.75" y1="269.61" x2="58.75" y2="278.51" stroke="#000" stroke-width="1.35" stroke-linecap="butt"/>
<line x1="56.38" y1="269.61" x2="61.12" y2="269.61" stroke="#000" stroke-width="1.35" stroke-linecap="butt"/>
<rect x="54.67" y="278.51" width="8.15" height="45.69" fill="#000" stroke="#000" stroke-width="1.35"/>
<line x1="80.75" y1="249.68" x2="80.75" y2="255.81" stroke="#000" stroke-width="1.35" stroke-linecap="butt"/>
<line x1="78.38" y1="249.68" x2="83.12" y2="249.68" stroke="#000" stroke-width="1.35" stroke-linecap="butt"/>
<rect x="76.67" y="255.81" width="8.15" height="68.39" fill="#fff" stroke="#000" stroke-width="1.35"/>
<line x1="93.25" y1="259.68" x2="93.25" y2="274.7" stroke="#000" stroke-width="1.35" stroke-linecap="butt"/>
<line x1="90.88" y1="259.68" x2="95.62" y2="259.68" stroke="#000" stroke-width="1.35" stroke-linecap="butt"/>
<rect x="89.17" y="274.7" width="8.15" height="49.5" fill="#000" stroke="#000" stroke-width="1.35"/>
<line x1="115.25" y1="252.75" x2="115.25" y2="265.01" stroke="#000" stroke-width="1.35" stroke-linecap="butt"/>
<line x1="112.88" y1="252.75" x2="117.62" y2="252.75" stroke="#000" stroke-width="1.35" stroke-linecap="butt"/>
<rect x="111.17" y="265.01" width="8.15" height="59.19" fill="#fff" stroke="#000" stroke-width="1.35"/>
<line x1="127.75" y1="262.07" x2="127.75" y2="272.8" stroke="#000" stroke-width="1.35" stroke-linecap="butt"/>
<line x1="125.38" y1="262.07" x2="130.12" y2="262.07" stroke="#000" stroke-width="1.35" stroke-linecap="butt"/>
<rect x="123.67" y="272.8" width="8.15" height="51.4" fill="#000" stroke="#000" stroke-width="1.35"/>
<line x1="149.75" y1="262.74" x2="149.75" y2="280.53" stroke="#000" stroke-width="1.35" stroke-linecap="butt"/>
<line x1="147.38" y1="262.74" x2="152.12" y2="262.74" stroke="#000" stroke-width="1.35" stroke-linecap="butt"/>
<rect x="145.68" y="280.53" width="8.15" height="43.67" fill="#fff" stroke="#000" stroke-width="1.35"/>
<line x1="162.25" y1="258.57" x2="162.25" y2="272.07" stroke="#000" stroke-width="1.35" stroke-linecap="butt"/>
<line x1="159.88" y1="258.57" x2="164.62" y2="258.57" stroke="#000" stroke-width="1.35" stroke-linecap="butt"/>
<rect x="158.18" y="272.07" width="8.15" height="52.13" fill="#000" stroke="#000" stroke-width="1.35"/>
<line x1="35" y1="231.7" x2="35" y2="324.75" stroke="#000" stroke-width="1.35" stroke-linecap="butt"/>
<line x1="34.45" y1="324.2" x2="173" y2="324.2" stroke="#000" stroke-width="1.35" stroke-linecap="butt"/>
<line x1="32.7" y1="324.2" x2="35" y2="324.2" stroke="#000" stroke-width="1.35" stroke-linecap="butt"/>
<text x="31.4" y="326.37" font-size="7" font-weight="bold" text-anchor="end" stroke="#000" stroke-width="0.36">0</text>
<line x1="32.7" y1="293.53" x2="35" y2="293.53" stroke="#000" stroke-width="1.35" stroke-linecap="butt"/>
<text x="31.4" y="295.7" font-size="7" font-weight="bold" text-anchor="end" stroke="#000" stroke-width="0.36">500</text>
<line x1="32.7" y1="262.87" x2="35" y2="262.87" stroke="#000" stroke-width="1.35" stroke-linecap="butt"/>
<text x="31.4" y="265.04" font-size="7" font-weight="bold" text-anchor="end" stroke="#000" stroke-width="0.36">1,000</text>
<line x1="32.7" y1="232.2" x2="35" y2="232.2" stroke="#000" stroke-width="1.35" stroke-linecap="butt"/>
<text x="31.4" y="234.37" font-size="7" font-weight="bold" text-anchor="end" stroke="#000" stroke-width="0.36">1,500</text>
<text transform="translate(9 277.2) rotate(-90) scale(1 0.86)" font-size="9.9" font-weight="bold" text-anchor="middle" stroke="#000" stroke-width="0.34">[ZSTK] (ng/mL)</text>
<line x1="223.75" y1="284.07" x2="223.75" y2="294.66" stroke="#000" stroke-width="1.35" stroke-linecap="butt"/>
<line x1="221.38" y1="284.07" x2="226.12" y2="284.07" stroke="#000" stroke-width="1.35" stroke-linecap="butt"/>
<rect x="219.68" y="294.66" width="8.15" height="30.24" fill="#fff" stroke="#000" stroke-width="1.35"/>
<line x1="236.25" y1="239.55" x2="236.25" y2="273.63" stroke="#000" stroke-width="1.35" stroke-linecap="butt"/>
<line x1="233.88" y1="239.55" x2="238.62" y2="239.55" stroke="#000" stroke-width="1.35" stroke-linecap="butt"/>
<rect x="232.18" y="273.63" width="8.15" height="51.27" fill="#000" stroke="#000" stroke-width="1.35"/>
<line x1="258.25" y1="283.15" x2="258.25" y2="287.75" stroke="#000" stroke-width="1.35" stroke-linecap="butt"/>
<line x1="255.88" y1="283.15" x2="260.62" y2="283.15" stroke="#000" stroke-width="1.35" stroke-linecap="butt"/>
<rect x="254.18" y="287.75" width="8.15" height="37.15" fill="#fff" stroke="#000" stroke-width="1.35"/>
<line x1="270.75" y1="274.71" x2="270.75" y2="284.68" stroke="#000" stroke-width="1.35" stroke-linecap="butt"/>
<line x1="268.38" y1="274.71" x2="273.12" y2="274.71" stroke="#000" stroke-width="1.35" stroke-linecap="butt"/>
<rect x="266.68" y="284.68" width="8.15" height="40.22" fill="#000" stroke="#000" stroke-width="1.35"/>
<line x1="292.75" y1="281.15" x2="292.75" y2="285.14" stroke="#000" stroke-width="1.35" stroke-linecap="butt"/>
<line x1="290.38" y1="281.15" x2="295.12" y2="281.15" stroke="#000" stroke-width="1.35" stroke-linecap="butt"/>
<rect x="288.68" y="285.14" width="8.15" height="39.76" fill="#fff" stroke="#000" stroke-width="1.35"/>
<line x1="305.25" y1="278.08" x2="305.25" y2="289.59" stroke="#000" stroke-width="1.35" stroke-linecap="butt"/>
<line x1="302.88" y1="278.08" x2="307.62" y2="278.08" stroke="#000" stroke-width="1.35" stroke-linecap="butt"/>
<rect x="301.18" y="289.59" width="8.15" height="35.31" fill="#000" stroke="#000" stroke-width="1.35"/>
<line x1="327.25" y1="281.15" x2="327.25" y2="291.59" stroke="#000" stroke-width="1.35" stroke-linecap="butt"/>
<line x1="324.88" y1="281.15" x2="329.62" y2="281.15" stroke="#000" stroke-width="1.35" stroke-linecap="butt"/>
<rect x="323.18" y="291.59" width="8.15" height="33.31" fill="#fff" stroke="#000" stroke-width="1.35"/>
<line x1="339.75" y1="278.08" x2="339.75" y2="287.14" stroke="#000" stroke-width="1.35" stroke-linecap="butt"/>
<line x1="337.38" y1="278.08" x2="342.12" y2="278.08" stroke="#000" stroke-width="1.35" stroke-linecap="butt"/>
<rect x="335.68" y="287.14" width="8.15" height="37.76" fill="#000" stroke="#000" stroke-width="1.35"/>
<line x1="213" y1="232.3" x2="213" y2="325.45" stroke="#000" stroke-width="1.35" stroke-linecap="butt"/>
<line x1="212.45" y1="324.9" x2="351" y2="324.9" stroke="#000" stroke-width="1.35" stroke-linecap="butt"/>
<line x1="210.7" y1="324.9" x2="213" y2="324.9" stroke="#000" stroke-width="1.35" stroke-linecap="butt"/>
<text x="209.4" y="327.07" font-size="7" font-weight="bold" text-anchor="end" stroke="#000" stroke-width="0.36">0</text>
<line x1="210.7" y1="294.2" x2="213" y2="294.2" stroke="#000" stroke-width="1.35" stroke-linecap="butt"/>
<text x="209.4" y="296.37" font-size="7" font-weight="bold" text-anchor="end" stroke="#000" stroke-width="0.36">1,000</text>
<line x1="210.7" y1="263.5" x2="213" y2="263.5" stroke="#000" stroke-width="1.35" stroke-linecap="butt"/>
<text x="209.4" y="265.67" font-size="7" font-weight="bold" text-anchor="end" stroke="#000" stroke-width="0.36">2,000</text>
<line x1="210.7" y1="232.8" x2="213" y2="232.8" stroke="#000" stroke-width="1.35" stroke-linecap="butt"/>
<text x="209.4" y="234.97" font-size="7" font-weight="bold" text-anchor="end" stroke="#000" stroke-width="0.36">3,000</text>
<text transform="translate(186.6 278) rotate(-90) scale(1 0.86)" font-size="9.9" font-weight="bold" text-anchor="middle" stroke="#000" stroke-width="0.34">[ZSTK] (ng/g)</text>
<line x1="393.25" y1="290.79" x2="393.25" y2="298.84" stroke="#000" stroke-width="1.35" stroke-linecap="butt"/>
<line x1="390.88" y1="290.79" x2="395.62" y2="290.79" stroke="#000" stroke-width="1.35" stroke-linecap="butt"/>
<rect x="389.18" y="298.84" width="8.15" height="25.76" fill="#fff" stroke="#000" stroke-width="1.35"/>
<line x1="405.75" y1="246.4" x2="405.75" y2="273.31" stroke="#000" stroke-width="1.35" stroke-linecap="butt"/>
<line x1="403.38" y1="246.4" x2="408.12" y2="246.4" stroke="#000" stroke-width="1.35" stroke-linecap="butt"/>
<rect x="401.68" y="273.31" width="8.15" height="51.29" fill="#000" stroke="#000" stroke-width="1.35"/>
<line x1="427.25" y1="295.39" x2="427.25" y2="298.84" stroke="#000" stroke-width="1.35" stroke-linecap="butt"/>
<line x1="424.88" y1="295.39" x2="429.62" y2="295.39" stroke="#000" stroke-width="1.35" stroke-linecap="butt"/>
<rect x="423.18" y="298.84" width="8.15" height="25.76" fill="#fff" stroke="#000" stroke-width="1.35"/>
<line x1="439.75" y1="271.81" x2="439.75" y2="284.81" stroke="#000" stroke-width="1.35" stroke-linecap="butt"/>
<line x1="437.38" y1="271.81" x2="442.12" y2="271.81" stroke="#000" stroke-width="1.35" stroke-linecap="butt"/>
<rect x="435.68" y="284.81" width="8.15" height="39.79" fill="#000" stroke="#000" stroke-width="1.35"/>
<line x1="461.75" y1="285.96" x2="461.75" y2="292.4" stroke="#000" stroke-width="1.35" stroke-linecap="butt"/>
<line x1="459.38" y1="285.96" x2="464.12" y2="285.96" stroke="#000" stroke-width="1.35" stroke-linecap="butt"/>
<rect x="457.68" y="292.4" width="8.15" height="32.2" fill="#fff" stroke="#000" stroke-width="1.35"/>
<line x1="474.25" y1="281.94" x2="474.25" y2="291.94" stroke="#000" stroke-width="1.35" stroke-linecap="butt"/>
<line x1="471.88" y1="281.94" x2="476.62" y2="281.94" stroke="#000" stroke-width="1.35" stroke-linecap="butt"/>
<rect x="470.18" y="291.94" width="8.15" height="32.66" fill="#000" stroke="#000" stroke-width="1.35"/>
<line x1="496.25" y1="268.94" x2="496.25" y2="285.96" stroke="#000" stroke-width="1.35" stroke-linecap="butt"/>
<line x1="493.88" y1="268.94" x2="498.62" y2="268.94" stroke="#000" stroke-width="1.35" stroke-linecap="butt"/>
<rect x="492.18" y="285.96" width="8.15" height="38.64" fill="#fff" stroke="#000" stroke-width="1.35"/>
<line x1="508.75" y1="269.4" x2="508.75" y2="287.8" stroke="#000" stroke-width="1.35" stroke-linecap="butt"/>
<line x1="506.38" y1="269.4" x2="511.12" y2="269.4" stroke="#000" stroke-width="1.35" stroke-linecap="butt"/>
<rect x="504.68" y="287.8" width="8.15" height="36.8" fill="#000" stroke="#000" stroke-width="1.35"/>
<line x1="382" y1="232.1" x2="382" y2="325.15" stroke="#000" stroke-width="1.35" stroke-linecap="butt"/>
<line x1="381.45" y1="324.6" x2="520" y2="324.6" stroke="#000" stroke-width="1.35" stroke-linecap="butt"/>
<line x1="379.7" y1="324.6" x2="382" y2="324.6" stroke="#000" stroke-width="1.35" stroke-linecap="butt"/>
<text x="378.4" y="326.77" font-size="7" font-weight="bold" text-anchor="end" stroke="#000" stroke-width="0.36">0</text>
<line x1="379.7" y1="301.6" x2="382" y2="301.6" stroke="#000" stroke-width="1.35" stroke-linecap="butt"/>
<text x="378.4" y="303.77" font-size="7" font-weight="bold" text-anchor="end" stroke="#000" stroke-width="0.36">1</text>
<line x1="379.7" y1="278.6" x2="382" y2="278.6" stroke="#000" stroke-width="1.35" stroke-linecap="butt"/>
<text x="378.4" y="280.77" font-size="7" font-weight="bold" text-anchor="end" stroke="#000" stroke-width="0.36">2</text>
<line x1="379.7" y1="255.6" x2="382" y2="255.6" stroke="#000" stroke-width="1.35" stroke-linecap="butt"/>
<text x="378.4" y="257.77" font-size="7" font-weight="bold" text-anchor="end" stroke="#000" stroke-width="0.36">3</text>
<line x1="379.7" y1="232.6" x2="382" y2="232.6" stroke="#000" stroke-width="1.35" stroke-linecap="butt"/>
<text x="378.4" y="234.77" font-size="7" font-weight="bold" text-anchor="end" stroke="#000" stroke-width="0.36">4</text>
<text transform="translate(369.2 279.5) rotate(-90) scale(1 1)" font-size="9.75" font-weight="bold" text-anchor="middle" stroke="#000" stroke-width="0.32">ZSTK brain–plasma ratio</text>
<line x1="52.5" y1="324.2" x2="52.5" y2="326.6" stroke="#000" stroke-width="1" stroke-linecap="butt"/>
<text x="46.2" y="341.05" font-size="6.5" font-weight="bold" text-anchor="middle" transform="rotate(-45 46.2 338.75)" stroke="#000" stroke-width="0.36">15 min</text>
<line x1="87" y1="324.2" x2="87" y2="326.6" stroke="#000" stroke-width="1" stroke-linecap="butt"/>
<text x="82.9" y="338.7" font-size="6.5" font-weight="bold" text-anchor="middle" transform="rotate(-45 82.9 336.4)" stroke="#000" stroke-width="0.36">1 h</text>
<line x1="121.5" y1="324.2" x2="121.5" y2="326.6" stroke="#000" stroke-width="1" stroke-linecap="butt"/>
<text x="117.4" y="338.7" font-size="6.5" font-weight="bold" text-anchor="middle" transform="rotate(-45 117.4 336.4)" stroke="#000" stroke-width="0.36">2 h</text>
<line x1="156" y1="324.2" x2="156" y2="326.6" stroke="#000" stroke-width="1" stroke-linecap="butt"/>
<text x="151.9" y="338.7" font-size="6.5" font-weight="bold" text-anchor="middle" transform="rotate(-45 151.9 336.4)" stroke="#000" stroke-width="0.36">4 h</text>
<line x1="230" y1="324.8" x2="230" y2="327.2" stroke="#000" stroke-width="1" stroke-linecap="butt"/>
<text x="223.7" y="341.65" font-size="6.5" font-weight="bold" text-anchor="middle" transform="rotate(-45 223.7 339.35)" stroke="#000" stroke-width="0.36">15 min</text>
<line x1="264.5" y1="324.8" x2="264.5" y2="327.2" stroke="#000" stroke-width="1" stroke-linecap="butt"/>
<text x="260.4" y="339.3" font-size="6.5" font-weight="bold" text-anchor="middle" transform="rotate(-45 260.4 337)" stroke="#000" stroke-width="0.36">1 h</text>
<line x1="299" y1="324.8" x2="299" y2="327.2" stroke="#000" stroke-width="1" stroke-linecap="butt"/>
<text x="294.9" y="339.3" font-size="6.5" font-weight="bold" text-anchor="middle" transform="rotate(-45 294.9 337)" stroke="#000" stroke-width="0.36">2 h</text>
<line x1="333.5" y1="324.8" x2="333.5" y2="327.2" stroke="#000" stroke-width="1" stroke-linecap="butt"/>
<text x="329.4" y="339.3" font-size="6.5" font-weight="bold" text-anchor="middle" transform="rotate(-45 329.4 337)" stroke="#000" stroke-width="0.36">4 h</text>
<line x1="399.5" y1="324.5" x2="399.5" y2="326.9" stroke="#000" stroke-width="1" stroke-linecap="butt"/>
<text x="393.2" y="341.35" font-size="6.5" font-weight="bold" text-anchor="middle" transform="rotate(-45 393.2 339.05)" stroke="#000" stroke-width="0.36">15 min</text>
<line x1="434" y1="324.5" x2="434" y2="326.9" stroke="#000" stroke-width="1" stroke-linecap="butt"/>
<text x="429.9" y="339" font-size="6.5" font-weight="bold" text-anchor="middle" transform="rotate(-45 429.9 336.7)" stroke="#000" stroke-width="0.36">1 h</text>
<line x1="468.5" y1="324.5" x2="468.5" y2="326.9" stroke="#000" stroke-width="1" stroke-linecap="butt"/>
<text x="464.4" y="339" font-size="6.5" font-weight="bold" text-anchor="middle" transform="rotate(-45 464.4 336.7)" stroke="#000" stroke-width="0.36">2 h</text>
<line x1="503" y1="324.5" x2="503" y2="326.9" stroke="#000" stroke-width="1" stroke-linecap="butt"/>
<text x="498.9" y="339" font-size="6.5" font-weight="bold" text-anchor="middle" transform="rotate(-45 498.9 336.7)" stroke="#000" stroke-width="0.36">4 h</text>
<text x="104.5" y="356.8" font-size="7.5" font-weight="bold" text-anchor="middle" stroke="#000" stroke-width="0.36">Time after injection</text>
<text x="281.8" y="357.6" font-size="7.5" font-weight="bold" text-anchor="middle" stroke="#000" stroke-width="0.36">Time after injection</text>
<text x="450.8" y="357.2" font-size="7.5" font-weight="bold" text-anchor="middle" stroke="#000" stroke-width="0.36">Time after injection</text>
<rect x="437.5" y="236.4" width="9.3" height="3.6" rx="0.8" fill="#fff" stroke="#000" stroke-width="1.2"/>
<rect x="436.9" y="246.7" width="10.5" height="4.8" rx="0.8" fill="#000"/>
<text x="452.4" y="240.3" font-size="7.5" text-anchor="start" stroke="#000" stroke-width="0.15">WT</text>
<text x="452.4" y="251.9" font-size="7.8" text-anchor="start" stroke="#000" stroke-width="0.15">Abcb1a/b;Abcg2<tspan dy="-2.6" font-size="5.3">-/-</tspan></text>
</g>
<g id="panelC">
<text transform="translate(112.9 387.9) scale(1.12 1)" font-size="15.9" font-weight="bold" stroke="#000" stroke-width="0.45">C</text>
<text x="225" y="394.5" font-size="13.2" text-anchor="middle" stroke="#000" stroke-width="0.15">WT</text>
<text x="323.1" y="380.4" font-size="12.65" font-style="italic" text-anchor="middle" stroke="#000" stroke-width="0.15">Abcb1a/b;</text>
<text x="301.4" y="395.7" font-size="13.1" font-style="italic" text-anchor="start" stroke="#000" stroke-width="0.15">Abcg2<tspan dy="-4.8" font-size="9.2">-/-</tspan></text>
<line x1="166.6" y1="400.9" x2="282.4" y2="401" stroke="#000" stroke-width="2.9" stroke-linecap="round"/>
<line x1="291.6" y1="400.9" x2="353" y2="401" stroke="#000" stroke-width="2.9" stroke-linecap="round"/>
<text x="150.8" y="419.5" font-size="13.2" text-anchor="end" stroke="#000" stroke-width="0.15">ZSTK</text>
<text x="150.3" y="435.9" font-size="13" text-anchor="end" stroke="#000" stroke-width="0.15">Control</text>
<line x1="179" y1="417.5" x2="186.4" y2="417.5" stroke="#000" stroke-width="1.4" stroke-linecap="butt"/>
<line x1="179.2" y1="429.6" x2="186.2" y2="429.6" stroke="#000" stroke-width="1.45" stroke-linecap="butt"/>
<line x1="182.7" y1="426.1" x2="182.7" y2="433.1" stroke="#000" stroke-width="1.45" stroke-linecap="butt"/>
<line x1="208.3" y1="417.5" x2="215.7" y2="417.5" stroke="#000" stroke-width="1.4" stroke-linecap="butt"/>
<line x1="208.5" y1="429.6" x2="215.5" y2="429.6" stroke="#000" stroke-width="1.45" stroke-linecap="butt"/>
<line x1="212" y1="426.1" x2="212" y2="433.1" stroke="#000" stroke-width="1.45" stroke-linecap="butt"/>
<line x1="236.8" y1="415.8" x2="243.8" y2="415.8" stroke="#000" stroke-width="1.45" stroke-linecap="butt"/>
<line x1="240.3" y1="412.3" x2="240.3" y2="419.3" stroke="#000" stroke-width="1.45" stroke-linecap="butt"/>
<line x1="236.6" y1="431.9" x2="244" y2="431.9" stroke="#000" stroke-width="1.4" stroke-linecap="butt"/>
<line x1="268.5" y1="415.8" x2="275.5" y2="415.8" stroke="#000" stroke-width="1.45" stroke-linecap="butt"/>
<line x1="272" y1="412.3" x2="272" y2="419.3" stroke="#000" stroke-width="1.45" stroke-linecap="butt"/>
<line x1="268.3" y1="431.9" x2="275.7" y2="431.9" stroke="#000" stroke-width="1.4" stroke-linecap="butt"/>
<line x1="302" y1="415.8" x2="309" y2="415.8" stroke="#000" stroke-width="1.45" stroke-linecap="butt"/>
<line x1="305.5" y1="412.3" x2="305.5" y2="419.3" stroke="#000" stroke-width="1.45" stroke-linecap="butt"/>
<line x1="301.8" y1="431.9" x2="309.2" y2="431.9" stroke="#000" stroke-width="1.4" stroke-linecap="butt"/>
<line x1="331.5" y1="415.8" x2="338.5" y2="415.8" stroke="#000" stroke-width="1.45" stroke-linecap="butt"/>
<line x1="335" y1="412.3" x2="335" y2="419.3" stroke="#000" stroke-width="1.45" stroke-linecap="butt"/>
<line x1="331.3" y1="431.9" x2="338.7" y2="431.9" stroke="#000" stroke-width="1.4" stroke-linecap="butt"/>
<text x="111.6" y="466.9" font-size="13.5" text-anchor="start" stroke="#000" stroke-width="0.15">AKT<tspan dy="-4.8" font-size="8.8">S473</tspan></text>
<text x="90.8" y="502.5" font-size="13" text-anchor="start" stroke="#000" stroke-width="0.15">pS6<tspan dy="-4.8" font-size="8.75">S235/S236</tspan></text>
<text x="156.7" y="533.4" font-size="12.1" text-anchor="end" stroke="#000" stroke-width="0.15">β-Tubulin</text>
<defs><filter id="b0" x="-20%" y="-60%" width="140%" height="220%"><feGaussianBlur stdDeviation="0.7"/></filter><filter id="b1" x="-30%" y="-80%" width="160%" height="260%"><feGaussianBlur stdDeviation="1.1"/></filter><filter id="b3" x="-40%" y="-40%" width="180%" height="180%"><feGaussianBlur stdDeviation="1.3"/></filter><linearGradient id="gap" gradientUnits="userSpaceOnUse" x1="0" y1="516" x2="0" y2="541"><stop offset="0" stop-color="#d2d2d2"/><stop offset="0.2" stop-color="#a8a8a8"/><stop offset="0.38" stop-color="#6c6c6c"/><stop offset="0.58" stop-color="#444"/><stop offset="0.8" stop-color="#6a6a6a"/><stop offset="1" stop-color="#a8a8a8"/></linearGradient><clipPath id="ct"><rect x="165.3" y="516.4" width="188" height="24.6"/></clipPath><clipPath id="ca"><rect x="165.3" y="441.2" width="188" height="37.6"/></clipPath></defs>
<g clip-path="url(#ca)">
<ellipse cx="181.4" cy="461.4" rx="12.0" ry="3.6" fill="#3a3a3a" filter="url(#b1)"/>
<ellipse cx="211.6" cy="461.4" rx="12.0" ry="3.4" fill="#3a3a3a" filter="url(#b1)"/>
<path d="M170.2 460.0 C170.6 458.2 176 458.0 182 458.3 C187 458.5 192.4 459.4 193.0 460.8 C192.6 462.8 187 464.8 180 465.2 C174.5 465.4 169.8 463.4 170.2 460.0 Z" fill="#000" filter="url(#b0)"/>
<path d="M200.2 460.0 C200.6 458.5 206 458.3 212 458.6 C217 458.9 222.6 459.6 223.2 461.0 C222.8 462.8 217 464.5 210.5 464.8 C205 464.9 199.8 463.2 200.2 460.0 Z" fill="#000" filter="url(#b0)"/>
<ellipse cx="241.0" cy="461.6" rx="8.6" ry="1.6" fill="#b6b6b6" filter="url(#b1)"/>
<ellipse cx="270.5" cy="461.2" rx="7.0" ry="1.2" fill="#e2e2e2" filter="url(#b1)"/>
<ellipse cx="301.4" cy="461.5" rx="9.2" ry="1.9" fill="#b0b0b0" filter="url(#b1)"/>
<ellipse cx="303.0" cy="461.7" rx="4.5" ry="0.9" fill="#999" filter="url(#b1)"/>
<path d="M323 461.6 C327 462.4 333 461.6 339 459.6" fill="none" stroke="#b8b8b8" stroke-width="2.1" stroke-linecap="round" filter="url(#b1)"/>
<path d="M339.0 459.6 C341.0 457.8 341.6 455.5 341.8 452.5" fill="none" stroke="#e6e6e6" stroke-width="2.2" stroke-linecap="round" filter="url(#b1)"/>
<ellipse cx="340.0" cy="473.6" rx="9.0" ry="2.4" fill="#ebebeb" filter="url(#b1)"/>
<ellipse cx="342.5" cy="472.8" rx="3.5" ry="1.4" fill="#e0e0e0" filter="url(#b1)"/>
</g>
<rect x="165.3" y="441.2" width="188" height="37.6" fill="none" stroke="#000" stroke-width="1.35"/>
<ellipse cx="181.6" cy="499.0" rx="9.6" ry="2.3" fill="#8a8a8a" filter="url(#b1)"/>
<ellipse cx="176.5" cy="499.0" rx="3.2" ry="1.4" fill="#767676" filter="url(#b1)"/>
<ellipse cx="187.0" cy="499.2" rx="3.2" ry="1.4" fill="#767676" filter="url(#b1)"/>
<ellipse cx="209.8" cy="499.2" rx="9.6" ry="2.1" fill="#adadad" filter="url(#b1)"/>
<ellipse cx="239.8" cy="498.5" rx="8.6" ry="2.6" fill="#4a4a4a" filter="url(#b1)"/>
<ellipse cx="242.2" cy="498.5" rx="4.8" ry="1.9" fill="#000" filter="url(#b0)"/>
<ellipse cx="261.0" cy="498.8" rx="1.8" ry="0.9" fill="#d4d4d4" filter="url(#b0)"/>
<ellipse cx="300.3" cy="499.3" rx="6.5" ry="1.1" fill="#d8d8d8" filter="url(#b1)"/>
<ellipse cx="328.4" cy="499.0" rx="4.0" ry="1.1" fill="#d9d9d9" filter="url(#b1)"/>
<rect x="165.3" y="482.7" width="188" height="29.2" fill="none" stroke="#000" stroke-width="1.35"/>
<g clip-path="url(#ct)">
<rect x="165.3" y="516.4" width="188" height="24.6" fill="#222"/>
<rect x="160" y="538.8" width="200" height="3" fill="#6a6a6a" filter="url(#b0)"/>
<rect x="160" y="515.0" width="200" height="2.2" fill="#4a4a4a" filter="url(#b0)"/>
<path d="M193.42 514 L201.78 514 C200.11 521 199.18 524 199.18 528 C199.18 532 199.58 536 200.9 543 L194.3 543 C195.62 536 196.02 532 196.02 528 C196.02 524 195.09 521 193.42 514 Z" fill="url(#gap)" filter="url(#b0)"/>
<path d="M225.21 514 L233.19 514 C231.59 521 230.71 524 230.71 528 C230.71 532 231.09 536 232.35 543 L226.05 543 C227.31 536 227.69 532 227.69 528 C227.69 524 226.81 521 225.21 514 Z" fill="url(#gap)" filter="url(#b0)"/>
<path d="M254.58 514 L261.42 514 C260.05 521 259.3 524 259.3 528 C259.3 532 259.62 536 260.7 543 L255.3 543 C256.38 536 256.7 532 256.7 528 C256.7 524 255.95 521 254.58 514 Z" fill="url(#gap)" filter="url(#b0)"/>
<path d="M283.01 514 L290.99 514 C289.39 521 288.51 524 288.51 528 C288.51 532 288.89 536 290.15 543 L283.85 543 C285.11 536 285.49 532 285.49 528 C285.49 524 284.61 521 283.01 514 Z" fill="url(#gap)" filter="url(#b0)"/>
<path d="M312.88 514 L323.52 514 C321.39 521 320.22 524 320.22 528 C320.22 532 320.72 536 322.4 543 L314 543 C315.68 536 316.18 532 316.18 528 C316.18 524 315.01 521 312.88 514 Z" fill="url(#gap)" filter="url(#b0)"/>
<rect x="315.6" y="530" width="6.4" height="12" fill="#c4c4c4" filter="url(#b3)"/>
<rect x="343.5" y="512" width="14" height="34" fill="#8a8a8a" filter="url(#b3)"/>
<rect x="349.5" y="512" width="8" height="34" fill="#c4c4c4" filter="url(#b3)"/>
<path d="M317 541.5 L317 533 C321 537.5 330 539.5 341 538.6 L349 541.5 Z" fill="#9c9c9c" filter="url(#b3)"/>
<ellipse cx="179.8" cy="528.4" rx="16" ry="10.8" fill="#050505" filter="url(#b3)"/>
<rect x="165.2" y="519.2" width="29.2" height="18.0" rx="7" ry="8" fill="#000" filter="url(#b1)"/>
<ellipse cx="213.4" cy="528.4" rx="14" ry="10.8" fill="#050505" filter="url(#b3)"/>
<rect x="200.8" y="519.2" width="25.2" height="18.0" rx="7" ry="8" fill="#000" filter="url(#b1)"/>
<ellipse cx="243.7" cy="528.4" rx="12.7" ry="10.8" fill="#050505" filter="url(#b3)"/>
<rect x="232.4" y="519.2" width="22.6" height="18.0" rx="7" ry="8" fill="#000" filter="url(#b1)"/>
<ellipse cx="272.4" cy="528.4" rx="12.8" ry="10.8" fill="#050505" filter="url(#b3)"/>
<rect x="261" y="519.2" width="22.8" height="18.0" rx="7" ry="8" fill="#000" filter="url(#b1)"/>
<ellipse cx="302.2" cy="528.4" rx="13.4" ry="10.8" fill="#050505" filter="url(#b3)"/>
<rect x="290.2" y="519.2" width="24" height="18.0" rx="7" ry="8" fill="#000" filter="url(#b1)"/>
<ellipse cx="333.2" cy="527.4" rx="12" ry="9.6" fill="#080808" filter="url(#b3)" transform="rotate(-8 333.2 527.4)"/>
<rect x="322.8" y="519.0" width="20.8" height="16.4" rx="7" ry="7.5" fill="#000" filter="url(#b1)" transform="rotate(-8 333.2 527.4)"/>
</g>
<rect x="165.3" y="516.4" width="188" height="24.6" fill="none" stroke="#000" stroke-width="1.35"/>
</g>
<g id="panelD">
<text transform="translate(0.4 568.5) scale(1.13 1)" font-size="14" font-weight="bold" stroke="#000" stroke-width="0.45">D</text>
<text x="106.5" y="571.4" font-size="12.5" font-weight="bold" text-anchor="middle" stroke="#000" stroke-width="0.36">Brain</text>
<text x="279.5" y="571.4" font-size="12.5" font-weight="bold" text-anchor="middle" stroke="#000" stroke-width="0.36">Plasma</text>
<text x="458.5" y="571.4" font-size="12.75" font-weight="bold" text-anchor="middle" stroke="#000" stroke-width="0.36">Brain-plasma ratio</text>
<line x1="77.2" y1="613.38" x2="77.2" y2="642.38" stroke="#000" stroke-width="1.42" stroke-linecap="butt"/>
<line x1="67.25" y1="613.38" x2="87.15" y2="613.38" stroke="#000" stroke-width="1.42" stroke-linecap="butt"/>
<rect x="58.01" y="642.38" width="38.38" height="57.42" fill="#fff" stroke="#000" stroke-width="1.42"/>
<line x1="135.8" y1="589.37" x2="135.8" y2="625.56" stroke="#000" stroke-width="1.42" stroke-linecap="butt"/>
<line x1="125.85" y1="589.37" x2="145.75" y2="589.37" stroke="#000" stroke-width="1.42" stroke-linecap="butt"/>
<rect x="116.61" y="625.56" width="38.38" height="74.24" fill="#000" stroke="#000" stroke-width="1.42"/>
<line x1="47.9" y1="583.3" x2="47.9" y2="700.35" stroke="#000" stroke-width="1.42" stroke-linecap="butt"/>
<line x1="47.35" y1="699.8" x2="166" y2="699.8" stroke="#000" stroke-width="1.42" stroke-linecap="butt"/>
<line x1="46" y1="699.8" x2="47.9" y2="699.8" stroke="#000" stroke-width="1.42" stroke-linecap="butt"/>
<text x="45.4" y="702.82" font-size="8.4" font-weight="bold" text-anchor="end" stroke="#000" stroke-width="0.36">0</text>
<line x1="46" y1="676.6" x2="47.9" y2="676.6" stroke="#000" stroke-width="1.42" stroke-linecap="butt"/>
<text x="45.4" y="679.62" font-size="8.4" font-weight="bold" text-anchor="end" stroke="#000" stroke-width="0.36">200</text>
<line x1="46" y1="653.4" x2="47.9" y2="653.4" stroke="#000" stroke-width="1.42" stroke-linecap="butt"/>
<text x="45.4" y="656.42" font-size="8.4" font-weight="bold" text-anchor="end" stroke="#000" stroke-width="0.36">400</text>
<line x1="46" y1="630.2" x2="47.9" y2="630.2" stroke="#000" stroke-width="1.42" stroke-linecap="butt"/>
<text x="45.4" y="633.22" font-size="8.4" font-weight="bold" text-anchor="end" stroke="#000" stroke-width="0.36">600</text>
<line x1="46" y1="607" x2="47.9" y2="607" stroke="#000" stroke-width="1.42" stroke-linecap="butt"/>
<text x="45.4" y="610.02" font-size="8.4" font-weight="bold" text-anchor="end" stroke="#000" stroke-width="0.36">800</text>
<line x1="46" y1="583.8" x2="47.9" y2="583.8" stroke="#000" stroke-width="1.42" stroke-linecap="butt"/>
<text x="45.4" y="586.82" font-size="8.4" font-weight="bold" text-anchor="end" stroke="#000" stroke-width="0.36">1,000</text>
<text transform="translate(22.3 640) rotate(-90) scale(1 1)" font-size="10.1" font-weight="bold" text-anchor="middle" stroke="#000" stroke-width="0.32">[ZSTK] (ng/g)</text>
<line x1="249.8" y1="597.33" x2="249.8" y2="623.24" stroke="#000" stroke-width="1.42" stroke-linecap="butt"/>
<line x1="239.85" y1="597.33" x2="259.75" y2="597.33" stroke="#000" stroke-width="1.42" stroke-linecap="butt"/>
<rect x="230.61" y="623.24" width="38.38" height="76.56" fill="#fff" stroke="#000" stroke-width="1.42"/>
<line x1="308.8" y1="614.73" x2="308.8" y2="625.37" stroke="#000" stroke-width="1.42" stroke-linecap="butt"/>
<line x1="298.85" y1="614.73" x2="318.75" y2="614.73" stroke="#000" stroke-width="1.42" stroke-linecap="butt"/>
<rect x="289.61" y="625.37" width="38.38" height="74.43" fill="#000" stroke="#000" stroke-width="1.42"/>
<line x1="220.6" y1="583.3" x2="220.6" y2="700.35" stroke="#000" stroke-width="1.42" stroke-linecap="butt"/>
<line x1="220.05" y1="699.8" x2="338" y2="699.8" stroke="#000" stroke-width="1.42" stroke-linecap="butt"/>
<line x1="218.7" y1="699.8" x2="220.6" y2="699.8" stroke="#000" stroke-width="1.42" stroke-linecap="butt"/>
<text x="218.1" y="702.82" font-size="8.4" font-weight="bold" text-anchor="end" stroke="#000" stroke-width="0.36">0</text>
<line x1="218.7" y1="661.13" x2="220.6" y2="661.13" stroke="#000" stroke-width="1.42" stroke-linecap="butt"/>
<text x="218.1" y="664.16" font-size="8.4" font-weight="bold" text-anchor="end" stroke="#000" stroke-width="0.36">200</text>
<line x1="218.7" y1="622.47" x2="220.6" y2="622.47" stroke="#000" stroke-width="1.42" stroke-linecap="butt"/>
<text x="218.1" y="625.49" font-size="8.4" font-weight="bold" text-anchor="end" stroke="#000" stroke-width="0.36">400</text>
<line x1="218.7" y1="583.8" x2="220.6" y2="583.8" stroke="#000" stroke-width="1.42" stroke-linecap="butt"/>
<text x="218.1" y="586.82" font-size="8.4" font-weight="bold" text-anchor="end" stroke="#000" stroke-width="0.36">600</text>
<text transform="translate(194.7 638.5) rotate(-90) scale(1 0.96)" font-size="10" font-weight="bold" text-anchor="middle" stroke="#000" stroke-width="0.32">[ZSTK] (ng/mL)</text>
<line x1="429.4" y1="622.78" x2="429.4" y2="643.66" stroke="#000" stroke-width="1.42" stroke-linecap="butt"/>
<line x1="419.45" y1="622.78" x2="439.35" y2="622.78" stroke="#000" stroke-width="1.42" stroke-linecap="butt"/>
<rect x="410.21" y="643.66" width="38.38" height="56.14" fill="#fff" stroke="#000" stroke-width="1.42"/>
<line x1="488.4" y1="594.7" x2="488.4" y2="625.1" stroke="#000" stroke-width="1.42" stroke-linecap="butt"/>
<line x1="478.45" y1="594.7" x2="498.35" y2="594.7" stroke="#000" stroke-width="1.42" stroke-linecap="butt"/>
<rect x="469.21" y="625.1" width="38.38" height="74.7" fill="#000" stroke="#000" stroke-width="1.42"/>
<line x1="399.9" y1="583.3" x2="399.9" y2="700.35" stroke="#000" stroke-width="1.42" stroke-linecap="butt"/>
<line x1="399.35" y1="699.8" x2="518.9" y2="699.8" stroke="#000" stroke-width="1.42" stroke-linecap="butt"/>
<line x1="398" y1="699.8" x2="399.9" y2="699.8" stroke="#000" stroke-width="1.42" stroke-linecap="butt"/>
<text x="397.4" y="702.82" font-size="8.4" font-weight="bold" text-anchor="end" stroke="#000" stroke-width="0.36">0.0</text>
<line x1="398" y1="676.6" x2="399.9" y2="676.6" stroke="#000" stroke-width="1.42" stroke-linecap="butt"/>
<text x="397.4" y="679.62" font-size="8.4" font-weight="bold" text-anchor="end" stroke="#000" stroke-width="0.36">0.5</text>
<line x1="398" y1="653.4" x2="399.9" y2="653.4" stroke="#000" stroke-width="1.42" stroke-linecap="butt"/>
<text x="397.4" y="656.42" font-size="8.4" font-weight="bold" text-anchor="end" stroke="#000" stroke-width="0.36">1.0</text>
<line x1="398" y1="630.2" x2="399.9" y2="630.2" stroke="#000" stroke-width="1.42" stroke-linecap="butt"/>
<text x="397.4" y="633.22" font-size="8.4" font-weight="bold" text-anchor="end" stroke="#000" stroke-width="0.36">1.5</text>
<line x1="398" y1="607" x2="399.9" y2="607" stroke="#000" stroke-width="1.42" stroke-linecap="butt"/>
<text x="397.4" y="610.02" font-size="8.4" font-weight="bold" text-anchor="end" stroke="#000" stroke-width="0.36">2.0</text>
<line x1="398" y1="583.8" x2="399.9" y2="583.8" stroke="#000" stroke-width="1.42" stroke-linecap="butt"/>
<text x="397.4" y="586.82" font-size="8.4" font-weight="bold" text-anchor="end" stroke="#000" stroke-width="0.36">2.5</text>
<text transform="translate(375.2 638.9) rotate(-90) scale(1 1)" font-size="9.75" font-weight="bold" text-anchor="middle" stroke="#000" stroke-width="0.32">ZSTK brain–plasma ratio</text>
<line x1="77.4" y1="699.8" x2="77.4" y2="702.6" stroke="#000" stroke-width="1.42" stroke-linecap="butt"/>
<line x1="136.1" y1="699.8" x2="136.1" y2="702.6" stroke="#000" stroke-width="1.42" stroke-linecap="butt"/>
<text x="72.7" y="714.1" font-size="7.4" font-weight="bold" text-anchor="middle" transform="rotate(-45 72.7 711.5)" stroke="#000" stroke-width="0.36">WT</text>
<g transform="translate(121 721.6) rotate(-45)" font-size="8" font-weight="bold" text-anchor="middle" stroke="#000" stroke-width="0.32"><text x="0" y="0">Abcb1a/b;</text><text x="0" y="11.4">Abcg2<tspan dy="-2.8" font-size="5.6">-/-</tspan></text></g>
<line x1="249.9" y1="699.8" x2="249.9" y2="702.6" stroke="#000" stroke-width="1.42" stroke-linecap="butt"/>
<line x1="308.6" y1="699.8" x2="308.6" y2="702.6" stroke="#000" stroke-width="1.42" stroke-linecap="butt"/>
<text x="245.2" y="714.1" font-size="7.4" font-weight="bold" text-anchor="middle" transform="rotate(-45 245.2 711.5)" stroke="#000" stroke-width="0.36">WT</text>
<g transform="translate(293.5 721.6) rotate(-45)" font-size="8" font-weight="bold" text-anchor="middle" stroke="#000" stroke-width="0.32"><text x="0" y="0">Abcb1a/b;</text><text x="0" y="11.4">Abcg2<tspan dy="-2.8" font-size="5.6">-/-</tspan></text></g>
<line x1="429.4" y1="699.8" x2="429.4" y2="702.6" stroke="#000" stroke-width="1.42" stroke-linecap="butt"/>
<line x1="488.1" y1="699.8" x2="488.1" y2="702.6" stroke="#000" stroke-width="1.42" stroke-linecap="butt"/>
<text x="424.7" y="714.1" font-size="7.4" font-weight="bold" text-anchor="middle" transform="rotate(-45 424.7 711.5)" stroke="#000" stroke-width="0.36">WT</text>
<g transform="translate(473 721.6) rotate(-45)" font-size="8" font-weight="bold" text-anchor="middle" stroke="#000" stroke-width="0.32"><text x="0" y="0">Abcb1a/b;</text><text x="0" y="11.4">Abcg2<tspan dy="-2.8" font-size="5.6">-/-</tspan></text></g>
</g>
</svg>
</body>
</html>
